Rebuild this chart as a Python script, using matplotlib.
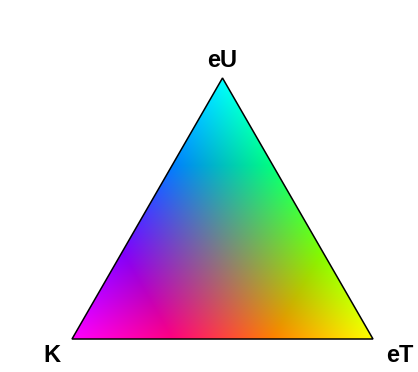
import numpy as np
from matplotlib import pyplot as plt
from matplotlib.patches import Polygon

# ternary corners: K (bottom left), eT (bottom right), eU (top)
labels = ["K", "eT", "eU"]
# colour at each pure corner (r, g, b)
corner_colors = [(1.0, 0.0, 1.0), (1.0, 1.0, 0.0), (0.0, 1.0, 1.0)]
stretch = 1.5   # how fast a component saturates its channel

h = np.sqrt(3) / 2
corners = np.array([[0, 0], [1, 0], [0.5, h]])

nx, ny = 600, 520
xs = np.linspace(0, 1, nx)
ys = np.linspace(0, h, ny)
X, Y = np.meshgrid(xs, ys)

# barycentric fractions
u = Y / h
t = X - u / 2
k = 1 - t - u
frac = [np.clip(k, 0, 1), np.clip(t, 0, 1), np.clip(u, 0, 1)]

# each corner knocks out the channel(s) it lacks (subtractive mixing)
img = np.ones((ny, nx, 3))
for f, col in zip(frac, corner_colors):
    a = np.clip(stretch * f, 0, 1)
    for c in range(3):
        if col[c] == 0:
            img[:, :, c] -= a
img = np.clip(img, 0, 1)

fig = plt.figure(figsize=(4.18, 3.72), dpi=100)
ax = fig.add_axes([72 / 418, 33 / 372, 301 / 418, 261 / 372])
ax.set_xlim(0, 1)
ax.set_ylim(0, h)
ax.axis("off")

im = ax.imshow(img, extent=[0, 1, 0, h], origin="lower", aspect="auto",
               interpolation="bilinear")
tri = Polygon(corners, closed=True, facecolor="none", edgecolor="black",
              linewidth=1.1, clip_on=False)
ax.add_patch(tri)
im.set_clip_path(tri)

# label offsets from each corner (baseline)
offsets = [(-0.066, -0.076), (0.090, -0.076), (0.0, 0.037)]
for lab, (cx, cy), (dx, dy) in zip(labels, corners, offsets):
    ax.text(cx + dx, cy + dy, lab, ha="center", va="baseline", fontsize=17,
            fontweight="bold", family="Liberation Sans", clip_on=False)

fig.savefig("out.png", dpi=100)
